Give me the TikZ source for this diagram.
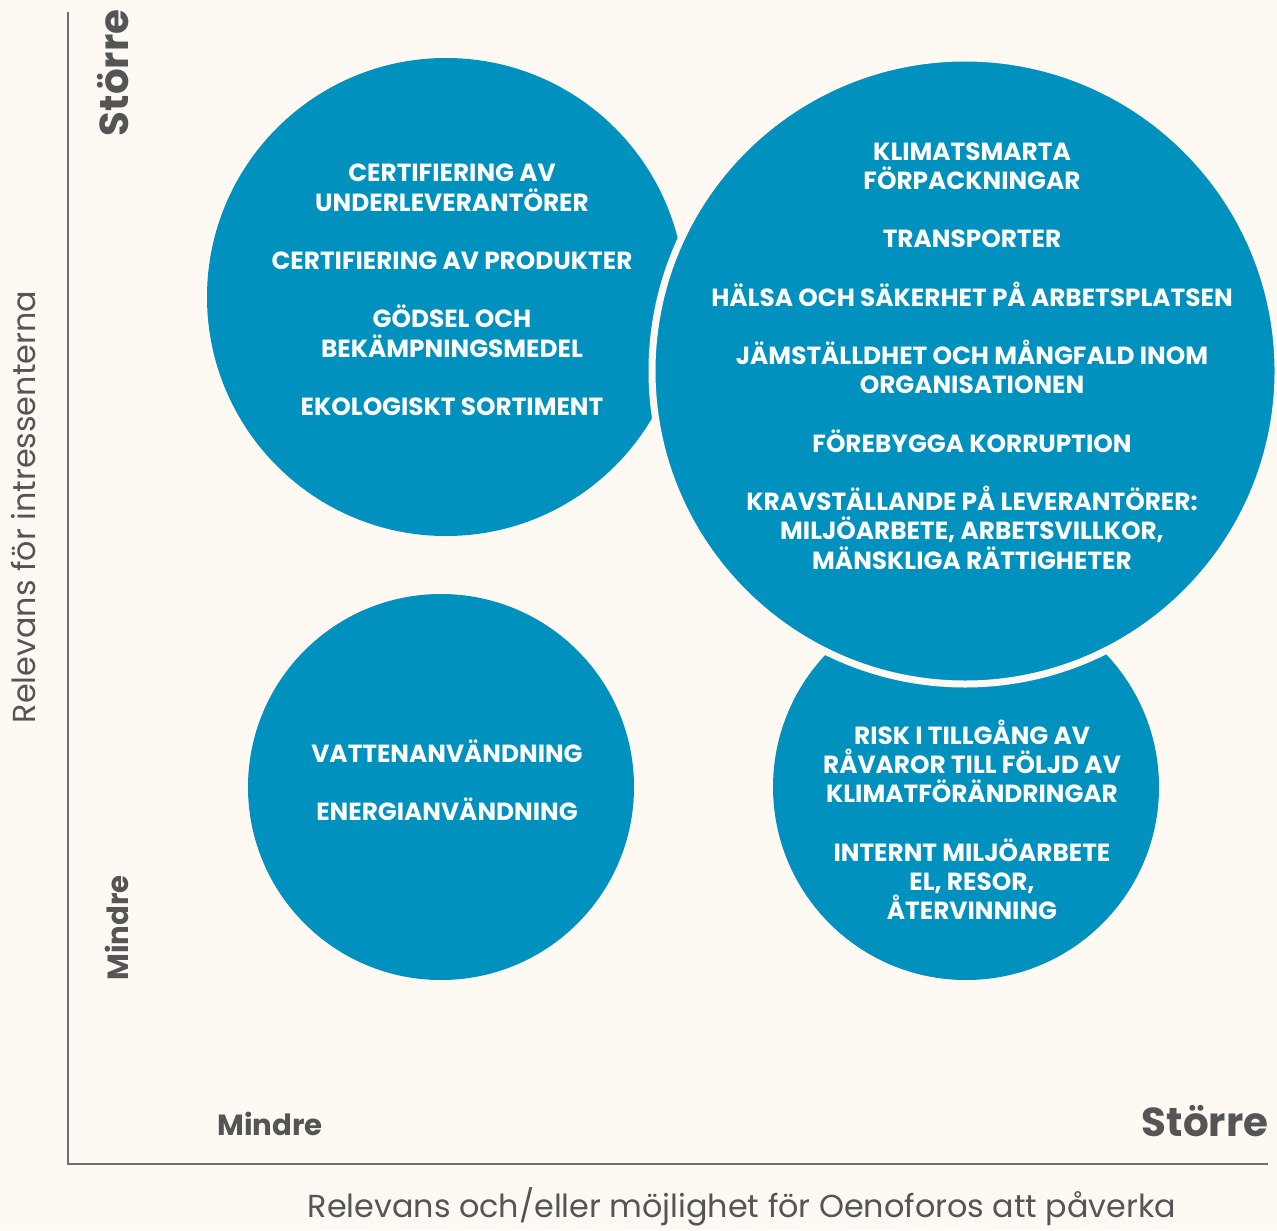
\documentclass[tikz,border=0pt]{standalone}
\usepackage{fontspec}
\setmainfont{Poppins}

\definecolor{bubbleblue}{HTML}{0091BF}
\definecolor{paper}{HTML}{FEFAF3}
\definecolor{axisgray}{HTML}{6E6E6E}
\definecolor{labelgray}{HTML}{555555}

\begin{document}
\begin{tikzpicture}[x = 0.5pt, y = -0.5pt,
	bubble/.style = {fill = bubbleblue},
	topic/.style = {text = white, align = center, inner sep = 0pt,
		font = \bfseries\fontsize{12.4}{14.6}\selectfont},
	endlabel/.style = {text = labelgray, inner sep = 0pt,
		font = \bfseries\fontsize{20.2}{24}\selectfont},
	lowlabel/.style = {text = labelgray, inner sep = 0pt,
		font = \bfseries\fontsize{14.6}{18}\selectfont},
	axistitle/.style = {text = labelgray, inner sep = 0pt,
		font = \fontsize{15.9}{18}\selectfont}]

	% Page
	
	\fill [paper] (0, 0) rectangle (1277, 1230);
	\useasboundingbox (0, 0) rectangle (1277, 1230);
	
	% Axes
	
	\coordinate (origin) at (68, 1164);
	\coordinate (ytop) at (68, 12);
	\coordinate (xend) at (1268, 1164);
	\draw [axisgray, line width = 1pt] (ytop) -- (origin) -- (xend);
	
	\node [axistitle, rotate = 90] (ytitle) at (23, 507) {Relevans för intressenterna};
	\node [axistitle] (xtitle) at (742, 1207) {Relevans och/eller möjlighet för Oenoforos att påverka};
	
	\node [endlabel, rotate = 90] (yhigh) at (113, 73) {Större};
	\node [lowlabel, rotate = 90] (ylow) at (117, 928) {Mindre};
	\node [lowlabel] (xlow) at (270, 1124) {Mindre};
	\node [endlabel] (xhigh) at (1205, 1121) {Större};
	
	% Bubbles
	
	\fill [bubble] (446, 297) circle (239);
	\fill [bubble] (441, 787) circle (193);
	\fill [bubble] (966, 787) circle (193);
	\filldraw [bubble, draw = paper, line width = 3.5pt] (965, 371) circle (313);
	
	% Bubble texts
	
	\node [topic] (tltext) at (452, 290) {CERTIFIERING AV\\UNDERLEVERANTÖRER\\[14.6pt]
		CERTIFIERING AV PRODUKTER\\[14.6pt]
		GÖDSEL OCH\\BEKÄMPNINGSMEDEL\\[14.6pt]
		EKOLOGISKT SORTIMENT};
	
	\node [topic] (bigtext) at (972, 356) {KLIMATSMARTA\\FÖRPACKNINGAR\\[14.6pt]
		TRANSPORTER\\[14.6pt]
		HÄLSA OCH SÄKERHET PÅ ARBETSPLATSEN\\[14.6pt]
		JÄMSTÄLLDHET OCH MÅNGFALD INOM\\ORGANISATIONEN\\[14.6pt]
		FÖREBYGGA KORRUPTION\\[14.6pt]
		KRAVSTÄLLANDE PÅ LEVERANTÖRER:\\MILJÖARBETE, ARBETSVILLKOR,\\MÄNSKLIGA RÄTTIGHETER};
	
	\node [topic] (bltext) at (447, 780) {VATTENANVÄNDNING\\[14.6pt]
		ENERGIANVÄNDNING};
	
	\node [topic] (brtext) at (972, 820) {RISK I TILLGÅNG AV\\RÅVAROR TILL FÖLJD AV\\KLIMATFÖRÄNDRINGAR\\[14.6pt]
		INTERNT MILJÖARBETE\\EL, RESOR,\\ÅTERVINNING};

\end{tikzpicture}
\end{document}
